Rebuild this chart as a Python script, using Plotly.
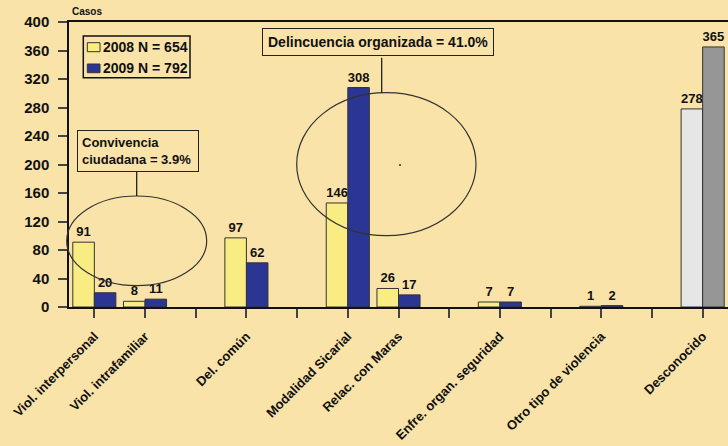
import plotly.graph_objects as go

categories = ["Viol. interpersonal", "Viol. intrafamiliar", " ", "Del. común", "  ",
              "Modalidad Sicarial", "Relac. con Maras", "   ", "Enfre. organ. seguridad",
              "    ", "Otro tipo de violencia", "     ", "Desconocido"]
vals_2008 = [91, 8, None, 97, None, 146, 26, None, 7, None, 1, None, 278]
vals_2009 = [20, 11, None, 62, None, 308, 17, None, 7, None, 2, None, 365]
series_names = ["2008 N = 654", "2009 N = 792"]
y_ticks = [0, 40, 80, 120, 160, 200, 240, 280, 320, 360, 400]

YELLOW = "#F8EC82"
BLUE = "#2B3593"
LGRAY = "#E6E6E6"
DGRAY = "#969696"
BG = "#F9E3A9"
FONT = "Liberation Sans, Arial, sans-serif"

col08 = [LGRAY if c == "Desconocido" else YELLOW for c in categories]
col09 = [DGRAY if c == "Desconocido" else BLUE for c in categories]

def lbl(v):
    return "" if v is None else str(v)

fig = go.Figure()
fig.add_bar(x=categories, y=vals_2008, name=series_names[0],
            marker=dict(color=col08, line=dict(color="#333333", width=1)),
            text=[lbl(v) for v in vals_2008], textposition="outside",
            constraintext="none", cliponaxis=False,
            textfont=dict(family=FONT, size=13, color="#111", weight="bold"))
fig.add_bar(x=categories, y=vals_2009, name=series_names[1],
            marker=dict(color=col09, line=dict(color="#333333", width=1)),
            text=[lbl(v) for v in vals_2009], textposition="outside",
            constraintext="none", cliponaxis=False,
            textfont=dict(family=FONT, size=13, color="#111", weight="bold"))

L, T, W, H = 69, 22, 659, 285
def px(x):
    return (x - L) / W
def py(y):
    return (T + H - y) / H

shapes = [
    # big ellipse
    dict(type="circle", xref="paper", yref="paper", x0=px(296.7), x1=px(476), y0=py(235.7), y1=py(92.7),
         line=dict(color="#333333", width=1.2)),
    dict(type="line", xref="paper", yref="paper", x0=px(381.7), x1=px(381.7), y0=py(57.7), y1=py(92.7),
         line=dict(color="#111111", width=1.2)),
    dict(type="circle", xref="paper", yref="paper", x0=px(399.3), x1=px(400.7), y0=py(165.7), y1=py(164.3),
         line=dict(color="#111111", width=0.5), fillcolor="#111111"),
    # small ellipse
    dict(type="circle", xref="paper", yref="paper", x0=px(66.7), x1=px(206.7), y0=py(285.7), y1=py(196),
         line=dict(color="#333333", width=1.2)),
    dict(type="line", xref="paper", yref="paper", x0=px(136.7), x1=px(136.7), y0=py(171.7), y1=py(196),
         line=dict(color="#111111", width=1.2)),
    # legend box and swatches
    dict(type="rect", xref="paper", yref="paper", x0=px(83.3), x1=px(190), y0=py(77.7), y1=py(36),
         line=dict(color="#111111", width=1.5)),
    dict(type="rect", xref="paper", yref="paper", x0=px(87.3), x1=px(100), y0=py(51.7), y1=py(42.7),
         line=dict(color="#333333", width=1), fillcolor=YELLOW),
    dict(type="rect", xref="paper", yref="paper", x0=px(87.3), x1=px(100), y0=py(72.7), y1=py(64),
         line=dict(color="#333333", width=1), fillcolor=BLUE),
]

annotations = [
    dict(text="Casos", xref="paper", yref="paper", x=px(70), y=py(12), xanchor="left", yanchor="middle",
         showarrow=False, font=dict(family=FONT, size=10, color="#111", weight="bold")),
    dict(text="Delincuencia organizada = 41.0%", xref="paper", yref="paper", x=px(378), y=py(42.3),
         xanchor="center", yanchor="middle", showarrow=False, bordercolor="#222", borderwidth=1,
         borderpad=5, font=dict(family=FONT, size=14, color="#111", weight="bold")),
    dict(text="Convivencia<br>ciudadana = 3.9%", xref="paper", yref="paper", x=px(137.5), y=py(150.5),
         xanchor="center", yanchor="middle", showarrow=False, bordercolor="#222", borderwidth=1,
         borderpad=4, align="left", width=112,
         font=dict(family=FONT, size=13, color="#111", weight="bold")),
    dict(text=series_names[0], xref="paper", yref="paper", x=px(101), y=py(47.5), xanchor="left",
         yanchor="middle", showarrow=False, font=dict(family=FONT, size=14, color="#111", weight="bold")),
    dict(text=series_names[1], xref="paper", yref="paper", x=px(101), y=py(68.5), xanchor="left",
         yanchor="middle", showarrow=False, font=dict(family=FONT, size=14, color="#111", weight="bold")),
]

fig.update_layout(
    width=728, height=446,
    margin=dict(l=L, r=728 - L - W, t=T, b=446 - T - H, autoexpand=False),
    paper_bgcolor=BG, plot_bgcolor=BG,
    barmode="group", bargap=0.15, bargroupgap=0,
    showlegend=False,
    shapes=shapes, annotations=annotations,
    xaxis=dict(type="category", categoryorder="array", categoryarray=categories,
               range=[-0.5, len(categories) - 0.5],
               showline=True, linecolor="#111", linewidth=1.5, mirror=True,
               ticks="outside", ticklen=9, tickcolor="#444", tickwidth=1.5,
               tickangle=-45, automargin=False, showgrid=False, ticklabelstandoff=6,
               tickfont=dict(family=FONT, size=13, color="#111", weight="bold")),
    yaxis=dict(range=[0, 400], tickvals=y_ticks, showline=True, linecolor="#111", linewidth=1.5,
               ticks="outside", ticklen=9, tickcolor="#444", tickwidth=1.5,
               showgrid=False, zeroline=False, automargin=False, ticklabelstandoff=6,
               tickfont=dict(family=FONT, size=15, color="#111", weight="bold")),
)

fig.write_html("out.html", config={"displayModeBar": False},
               post_script="document.body.style.margin='0px';document.body.style.background='" + BG + "';")
